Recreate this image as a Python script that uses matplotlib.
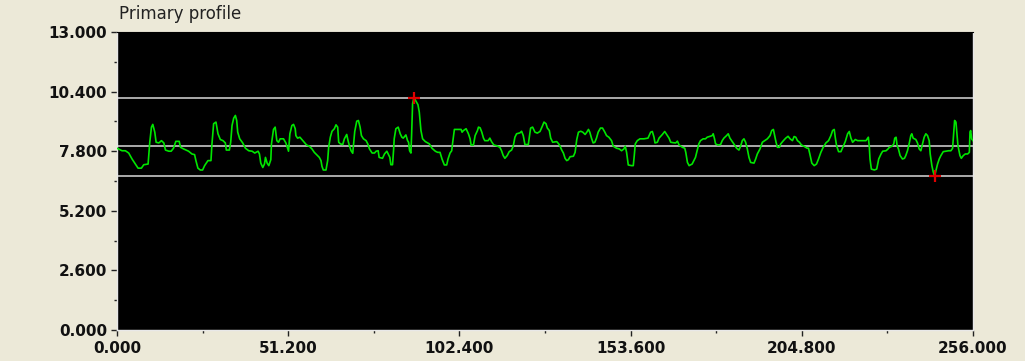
import matplotlib
matplotlib.use("Agg")
import matplotlib.pyplot as plt
from matplotlib.ticker import FixedLocator, FormatStrFormatter

title = "Primary profile"
x_ticks = [0.0, 51.2, 102.4, 153.6, 204.8, 256.0]
y_ticks = [0.0, 2.6, 5.2, 7.8, 10.4, 13.0]

upper_level = 10.14
mean_level = 8.04
lower_level = 6.71

profile_x = [
    0.0, 1.5, 2.5, 3.5, 4.5, 5.5, 6.3, 7.3, 8.0, 9.3, 9.5, 9.8, 10.3, 10.7, 11.3, 11.7, 12.5, 13.3,
    14.0, 14.5, 15.5, 16.2, 16.9, 17.6, 18.6, 19.0, 19.9, 21.4, 22.4, 23.2, 23.6, 24.2, 24.9, 25.6,
    26.2, 27.2, 28.1, 28.4, 28.9, 29.6, 30.2, 30.9, 31.7, 32.4, 32.7, 33.6, 34.0, 34.4, 34.9, 35.4,
    35.8, 36.1, 36.7, 37.6, 38.4, 39.4, 40.4, 41.2, 42.2, 42.6, 43.0, 43.6, 44.1, 44.4, 44.9, 45.4,
    46.0, 46.2, 46.8, 47.3, 47.8, 48.3, 48.8, 49.8, 50.5, 51.1,
    51.3, 51.7, 52.3, 52.8, 53.3, 53.5, 54.0, 54.7, 55.3, 56.0, 56.7, 57.5, 58.3, 59.0, 59.7, 60.5,
    61.0, 61.3, 61.7, 62.5, 63.0, 63.3, 63.8, 64.3, 65.0, 65.5, 66.0, 66.3, 66.8, 67.5, 68.0, 68.7,
    69.1, 69.5, 70.0, 70.5, 70.8, 71.1, 71.7, 72.2, 72.7, 73.1, 73.7, 74.5, 75.0, 75.5, 76.3, 77.0,
    77.5, 78.1, 78.4, 79.4, 80.0, 80.7, 81.1, 81.6, 81.9, 82.4, 82.7, 82.9, 83.4, 84.1, 84.7, 85.2,
    85.6, 86.4, 86.9, 87.2, 87.5, 87.9, 88.1, 88.4, 88.8, 89.4, 90.0, 90.4, 90.9, 91.4, 92.2, 92.9,
    93.4, 94.2, 95.2, 95.9, 96.6, 97.2, 97.9, 98.6, 99.0, 99.6, 100.1, 100.4, 100.9, 101.9, 102.9, 103.2,
    103.6, 104.4, 104.8, 105.1, 105.6, 105.9, 106.6, 107.1, 107.8, 108.1, 108.6, 109.1, 109.6, 110.0,
    111.0, 111.5, 112.0, 112.7, 113.5, 114.5, 115.0, 115.5, 116.0, 116.7, 117.3, 118.0, 118.5, 119.0,
    119.5, 120.5, 121.0, 121.5, 122.0, 123.0, 123.3, 123.7, 124.3, 125.0, 125.7, 126.5, 127.2, 127.7,
    128.3, 128.7, 129.3, 129.7, 130.3, 131.5, 132.1, 132.5, 133.0, 133.5, 134.0, 134.5, 135.0, 135.5,
    136.5, 137.0, 137.5, 138.0, 138.7, 139.3, 140.0, 140.5, 141.0, 141.4, 141.9, 142.4, 142.9, 143.4,
    143.9, 144.6, 145.2, 145.9, 146.4, 147.1, 147.9, 148.4, 149.4, 150.2, 150.9, 151.6, 152.0, 152.4,
    152.9, 153.9, 154.4, 154.7, 155.0,
    155.6, 156.4, 157.6, 158.8, 159.6, 160.1, 160.6, 160.9, 161.6, 162.1, 163.1, 163.8, 164.4, 165.1,
    165.6, 166.4, 167.1, 167.6, 168.1, 169.1, 169.8, 170.1, 170.6, 171.1, 172.0, 172.5, 173.0, 173.5,
    174.0, 174.5, 175.3, 176.0, 176.5, 177.3, 178.0, 178.3, 178.7, 179.0, 179.7, 180.5, 181.0, 181.5,
    182.3, 182.8, 183.3, 184.0, 184.7, 185.3, 186.0, 186.5, 187.0, 187.5, 188.0, 188.5, 189.0, 189.5,
    190.5, 191.0, 191.5, 192.3, 193.0, 193.7, 194.5, 195.3, 195.8, 196.3, 196.7, 197.1, 197.5, 198.1,
    198.5, 199.3, 200.0, 200.7, 201.3, 202.0, 202.5, 203.0, 203.5, 204.1, 204.7, 205.4, 206.4,
    206.8, 207.2, 207.8, 208.5, 209.2, 209.8, 210.5, 211.2, 212.0, 212.8, 213.5, 214.0, 214.5, 214.8,
    215.2, 215.8, 216.5, 217.2, 217.8, 218.5, 219.0, 219.5, 220.0, 220.8, 221.5, 222.5, 224.0, 224.7,
    225.0, 225.2, 225.6, 226.5, 227.2, 227.8, 228.5, 229.0, 230.0, 230.6, 231.0, 231.8, 232.3, 232.6,
    233.0, 233.3, 233.7, 234.2, 234.9, 235.5, 235.9, 236.4, 236.9, 237.4, 237.7, 238.1, 238.9, 239.4,
    239.9, 240.4, 240.9, 241.4, 241.9, 242.4, 242.9, 243.2, 243.7, 244.1, 244.5, 244.9, 245.4, 245.9,
    246.4, 247.1, 247.9, 248.7, 249.4, 249.9, 250.2, 250.5, 250.9, 251.2, 251.5, 252.1, 252.5, 253.1,
    253.7, 254.4, 254.9, 255.1, 255.3, 255.6, 256.0,
]

profile_y = [
    7.93, 7.82, 7.82, 7.72, 7.46, 7.24, 7.06, 7.06, 7.21, 7.24, 7.61, 8.19, 8.85, 8.97, 8.63, 8.19, 8.16, 8.26,
    8.16, 7.85, 7.80, 7.80, 7.93, 8.23, 8.23, 7.97, 7.90, 7.80, 7.68, 7.65, 7.39, 7.06, 6.98, 6.98,
    7.17, 7.39, 7.39, 8.12, 9.00, 9.07, 8.56, 8.31, 8.26, 8.16, 7.85, 7.85, 8.19, 8.92, 9.24, 9.36,
    9.14, 8.63, 8.34, 8.16, 7.93, 7.82, 7.80, 7.72, 7.80, 7.68, 7.28, 7.09, 7.24, 7.53, 7.28, 7.17,
    7.43, 8.12, 8.75, 8.85, 8.26, 8.19, 8.34, 8.34, 8.16, 7.90,
    7.80, 8.56, 8.92, 8.97, 8.78, 8.48, 8.37, 8.41, 8.31, 8.19, 8.07, 8.02, 7.90, 7.75, 7.65, 7.53,
    7.39, 7.14, 6.98, 6.98, 7.39, 7.97, 8.41, 8.67, 8.78, 8.95, 8.85, 8.19, 8.12, 8.09, 8.34, 8.53,
    8.26, 8.04, 7.82, 7.71, 8.19, 8.66, 9.11, 9.14, 8.85, 8.48, 8.34, 8.26, 8.12, 7.90, 7.72, 7.72,
    7.80, 7.82, 7.53, 7.49, 7.68, 7.80, 7.68, 7.53, 7.21, 7.21, 7.82, 8.34, 8.78, 8.85, 8.56, 8.41,
    8.37, 8.51, 8.26, 8.19, 7.82, 7.72, 8.48, 9.87, 10.14, 9.98, 9.83, 9.51, 8.70, 8.34, 8.22, 8.16,
    8.12, 7.93, 7.80, 7.75, 7.75, 7.46, 7.20, 7.20, 7.46, 7.72, 7.82, 8.19, 8.75, 8.75, 8.75, 8.63,
    8.70, 8.78, 8.66, 8.56, 8.34, 8.07, 8.07, 8.48, 8.70, 8.85, 8.82, 8.63, 8.37, 8.26,
    8.26, 8.37, 8.22, 8.07, 8.04, 7.97, 7.82, 7.61, 7.49, 7.61, 7.78, 7.85, 8.02, 8.41,
    8.56, 8.60, 8.67, 8.48, 8.09, 8.09, 8.41, 8.81, 8.85, 8.63, 8.59, 8.66, 8.89, 9.07,
    9.00, 8.81, 8.70, 8.37, 8.19, 8.22, 8.12, 8.02, 7.85, 7.72, 7.49, 7.39, 7.43, 7.56,
    7.58, 7.75, 8.31, 8.63, 8.67, 8.63, 8.53, 8.63, 8.75, 8.63, 8.37, 8.16, 8.19, 8.37,
    8.63, 8.81, 8.81, 8.63, 8.48, 8.41, 8.26, 8.02, 7.93, 7.90, 7.82, 7.90, 8.02, 7.75,
    7.20, 7.17, 7.17, 7.61, 8.12,
    8.26, 8.34, 8.34, 8.37, 8.63, 8.66, 8.41, 8.16, 8.19, 8.37, 8.53, 8.66, 8.53, 8.37,
    8.19, 8.17, 8.16, 8.24, 8.07, 7.97, 7.93, 7.75, 7.31, 7.17, 7.24, 7.39, 7.53, 7.82,
    8.12, 8.26, 8.34, 8.34, 8.41, 8.45, 8.48, 8.56, 8.34, 8.12, 8.07, 8.09, 8.26, 8.37,
    8.48, 8.56, 8.37, 8.22, 8.07, 7.93, 7.85, 8.02, 8.26, 8.34, 8.19, 7.90, 7.53, 7.31,
    7.28, 7.46, 7.68, 7.90, 8.19, 8.26, 8.34, 8.48, 8.70, 8.75, 8.48, 8.19, 7.97, 7.97,
    8.12, 8.26, 8.37, 8.45, 8.34, 8.26, 8.44, 8.41, 8.26, 8.19, 8.07, 8.02, 7.93,
    7.93, 7.68, 7.28, 7.17, 7.24, 7.46, 7.75, 7.97, 8.16, 8.26, 8.48, 8.70, 8.75, 8.41,
    8.04, 7.78, 7.78, 8.02, 8.22, 8.56, 8.66, 8.37, 8.19, 8.31, 8.26, 8.26, 8.26, 8.41,
    7.97, 7.46, 7.02, 6.98, 7.02, 7.46, 7.68, 7.80, 7.82, 7.90, 7.97, 8.02, 8.12, 8.37,
    8.41, 8.04, 7.90, 7.61, 7.46, 7.49, 7.61, 7.82, 8.12, 8.48, 8.56, 8.37, 8.31, 8.16,
    7.90, 7.82, 8.12, 8.41, 8.56, 8.48, 8.26, 7.68, 7.17, 6.90, 6.71, 6.95, 7.24, 7.46,
    7.61, 7.78, 7.80, 7.82, 7.82, 7.93, 8.56, 9.14, 9.07, 8.56, 8.04, 7.61, 7.49, 7.61,
    7.68, 7.68, 7.75, 8.63, 8.70, 8.34, 8.26,
]

BG = "#ECE9D8"
fig = plt.figure(figsize=(10.25, 3.61), dpi=100, facecolor=BG)
ax = fig.add_axes([117 / 1025, 31 / 361, 856 / 1025, 298 / 361])
ax.set_facecolor("black")

for lvl in (upper_level, mean_level, lower_level):
    ax.axhline(lvl, color="#c8c8c8", lw=1.2, zorder=2)

ax.plot(profile_x, profile_y, color="#00e600", lw=1.2, zorder=3)

imax = max(range(len(profile_y)), key=lambda i: profile_y[i])
imin = min(range(len(profile_y)), key=lambda i: profile_y[i])
ax.plot([profile_x[imax], profile_x[imin]], [profile_y[imax], profile_y[imin]],
        linestyle="none", marker="+", color="#e00000", markersize=8, mew=1.6, zorder=4)

ax.set_xlim(x_ticks[0], x_ticks[-1])
ax.set_ylim(y_ticks[0], y_ticks[-1])

ax.xaxis.set_major_locator(FixedLocator(x_ticks))
ax.yaxis.set_major_locator(FixedLocator(y_ticks))
ax.xaxis.set_minor_locator(FixedLocator([(a + b) / 2 for a, b in zip(x_ticks[:-1], x_ticks[1:])]))
ax.yaxis.set_minor_locator(FixedLocator([(a + b) / 2 for a, b in zip(y_ticks[:-1], y_ticks[1:])]))
ax.xaxis.set_major_formatter(FormatStrFormatter("%.3f"))
ax.yaxis.set_major_formatter(FormatStrFormatter("%.3f"))

ax.tick_params(which="major", length=4, width=1, color="#222222", labelsize=11,
               labelcolor="#111111", pad=3)
ax.tick_params(axis="x", which="major", pad=4)
ax.tick_params(which="minor", length=2, width=1, color="#222222")
for lab in ax.get_xticklabels() + ax.get_yticklabels():
    lab.set_fontweight("bold")

for side in ("left", "bottom", "right"):
    ax.spines[side].set_color("#e8e8e8")
    ax.spines[side].set_linewidth(1)
ax.spines["top"].set_color("black")

fig.text(119 / 1025, (361 - 19) / 361, title, fontsize=12, color="#222222",
         ha="left", va="baseline")

fig.savefig("out.png", dpi=100, facecolor=BG)
